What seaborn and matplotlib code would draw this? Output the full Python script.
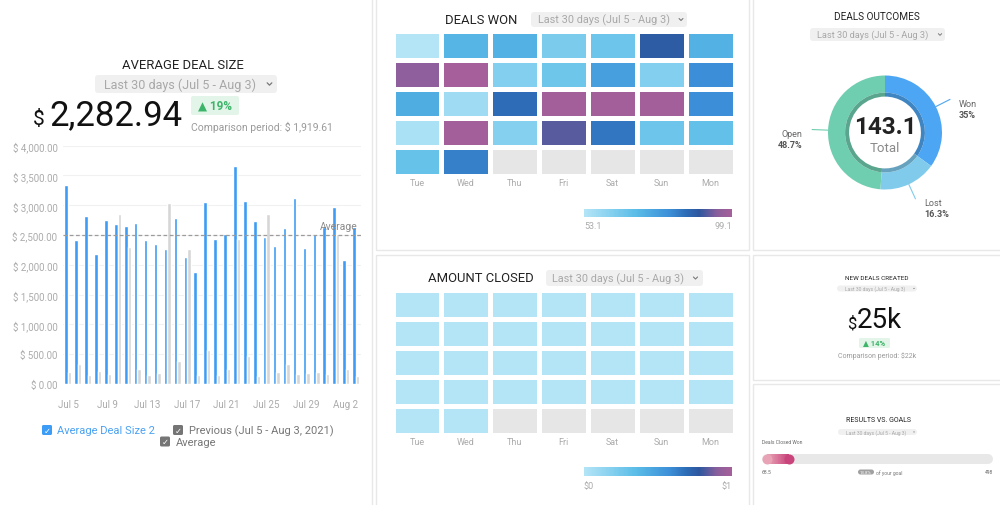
import numpy as np
import pandas as pd
import matplotlib.pyplot as plt
import seaborn as sns
from matplotlib.colors import LinearSegmentedColormap, ListedColormap, to_rgb
from matplotlib.patches import Rectangle, FancyBboxPatch
from matplotlib.collections import LineCollection

# -- data --
days = ['Jul 5', 'Jul 6', 'Jul 7', 'Jul 8', 'Jul 9', 'Jul 10', 'Jul 11', 'Jul 12',
        'Jul 13', 'Jul 14', 'Jul 15', 'Jul 16', 'Jul 17', 'Jul 18', 'Jul 19', 'Jul 20',
        'Jul 21', 'Jul 22', 'Jul 23', 'Jul 24', 'Jul 25', 'Jul 26', 'Jul 27', 'Jul 28',
        'Jul 29', 'Jul 30', 'Jul 31', 'Aug 1', 'Aug 2', 'Aug 3']
avg_deal = [3340, 2420, 2820, 2180, 2750, 2680, 2660, 2700, 2410, 2350,
            2270, 2790, 2130, 1880, 3050, 2440, 2520, 3660, 3080, 2740,
            2460, 2320, 2620, 3130, 2290, 2525, 2630, 2970, 2080, 2640]
prev_deal = [196, 330, 151, 212, 168, 2860, 2307, 246, 156, 179,
             3034, 391, 2274, 151, 575, 151, 251, 2441, 464, 140,
             2860, 196, 330, 168, 179, 207, 168, 2514, 251, 140]
avg_line = 2500
ytick_vals = [0, 500, 1000, 1500, 2000, 2500, 3000, 3500, 4000]

weekdays = ['Tue', 'Wed', 'Thu', 'Fri', 'Sat', 'Sun', 'Mon']
nan = np.nan
deals_won = [[53.1, 71.0, 72.0, 63.5, 66.0, 88.0, 72.0],
             [95.0, 99.1, 62.0, 65.5, 76.0, 62.0, 80.0],
             [73.0, 57.0, 85.0, 98.5, 98.5, 98.5, 80.0],
             [55.0, 98.5, 61.5, 91.5, 83.5, 66.0, 68.0],
             [67.0, 82.0, nan, nan, nan, nan, nan]]
amount_closed = [[0, 0, 0, 0, 0, 0, 0],
                 [0, 0, 0, 0, 0, 0, 0],
                 [0, 0, 0, 0, 0, 0, 0],
                 [0, 0, 0, 0, 0, 0, 0],
                 [0, 0, nan, nan, nan, nan, nan]]

outcome_labels = ['Won', 'Lost', 'Open']
outcome_share = [35.0, 16.3, 48.7]
outcome_total = 143.1

goal_value = 68.5
goal_target = 498

W, H = 1000, 506
sns.set_style('white')
plt.rcParams['font.family'] = ['Roboto', 'DejaVu Sans']

fig = plt.figure(figsize=(10, 5.06), dpi=100)


def px_axes(x0, y0, x1, y1, **kw):
    return fig.add_axes([x0 / W, 1 - y1 / H, (x1 - x0) / W, (y1 - y0) / H], **kw)


blue = '#3d9cf5'
grey_bar = '#d6d6d6'
tick_grey = '#ababab'
heat_cmap = LinearSegmentedColormap.from_list(
    'dw', [(0, '#b4e5f7'), (0.35, '#5bbde8'), (0.58, '#3c8fd8'), (0.7, '#2d6ab5'),
           (0.78, '#2e579f'), (0.9, '#8a5f9c'), (1.0, '#a65f9a')])

# --- average deal size bars ---
df = pd.DataFrame({'day': days * 2, 'value': avg_deal + prev_deal,
                   'series': ['Average Deal Size 2'] * 30 + ['Previous'] * 30})
ax = px_axes(63, 146.7, 360.7, 385)
sns.barplot(data=df, x='day', y='value', hue='series', palette=[blue, grey_bar],
            width=0.7, gap=0, saturation=1, errorbar=None, legend=False, ax=ax)
ax.set_ylim(0, 4000)
ax.set_yticks(ytick_vals)
ax.set_yticklabels([f'$ {v:,.2f}' for v in ytick_vals], color=tick_grey, fontsize=7)
ax.set_xticks(range(0, 30, 4))
ax.set_xticklabels(days[::4], color=tick_grey, fontsize=7)
ax.tick_params(length=0)
ax.tick_params(axis='y', pad=4)
ax.tick_params(axis='x', pad=11)
ax.yaxis.grid(True, color='#f1f1f1', lw=0.8)
ax.set_axisbelow(True)
ax.set_xlabel('')
ax.set_ylabel('')
sns.despine(ax=ax, left=True, bottom=True)
ax.axhline(avg_line, color='#9c9c9c', ls=(0, (3, 2)), lw=0.9)
ax.text(0.99, avg_line + 150, 'Average', transform=ax.get_yaxis_transform(),
        ha='right', va='center', fontsize=7.5, color='#8a8a8a')


# --- heatmaps ---
def calendar_heat(values, box, vmin, vmax, bar_box, lo, hi):
    arr = np.array(values, dtype=float)
    hax = px_axes(*box)
    empty = np.where(np.isnan(arr), 0.0, np.nan)
    sns.heatmap(empty, cmap=ListedColormap(['#e6e6e6']), cbar=False,
                linewidths=3.4, linecolor='white', ax=hax)
    sns.heatmap(arr, cmap=heat_cmap, vmin=vmin, vmax=vmax, cbar=False,
                linewidths=3.4, linecolor='white', ax=hax,
                xticklabels=weekdays, yticklabels=False)
    hax.tick_params(length=0, pad=2)
    for t in hax.get_xticklabels():
        t.set_color(tick_grey)
        t.set_fontsize(6.5)
        t.set_rotation(0)
    cax = px_axes(*bar_box)
    cax.imshow(np.linspace(0, 1, 256)[None, :], cmap=heat_cmap, aspect='auto')
    cax.axis('off')
    cax.text(0, -1.1, lo, transform=cax.transAxes, ha='left', va='center',
             fontsize=6.5, color=tick_grey)
    cax.text(1, -1.1, hi, transform=cax.transAxes, ha='right', va='center',
             fontsize=6.5, color=tick_grey)


calendar_heat(deals_won, (392.5, 31.5, 734.5, 176.5), 53.1, 99.1,
              (584, 210, 732, 218), '53.1', '99.1')
calendar_heat(amount_closed, (392.5, 290.5, 734.5, 435.5), 0, 1,
              (584, 468, 732, 477), '$0', '$1')

# --- deals outcomes donut ---
cx, cy, R = 885, 133.5, 57
dax = px_axes(cx - 103, cy - 103, cx + 103, cy + 103)
pie_colors = ['#4da6f3', '#80cbec', '#70ceb0']
dark_colors = [tuple(c * 0.8 for c in to_rgb(col)) for col in pie_colors]
dax.pie(outcome_share, colors=pie_colors, startangle=90, counterclock=False,
        radius=1.0, wedgeprops=dict(width=0.3, linewidth=0))
dax.pie(outcome_share, colors=dark_colors, startangle=90, counterclock=False,
        radius=0.70, wedgeprops=dict(width=0.07, linewidth=0))
dax.set_xlim(-103 / R, 103 / R)
dax.set_ylim(-103 / R, 103 / R)
dax.text(0, 0.1, f'{outcome_total}', ha='center', va='center', fontsize=17.5,
         fontweight='bold', color='#222222')
dax.text(0, -0.26, 'Total', ha='center', va='center', fontsize=9.5, color='#8a8a8a')
cum = 0
for lab, share, col in zip(outcome_labels, outcome_share, pie_colors):
    ang = np.deg2rad(90 - 360 * (cum + share / 2) / 100)
    cum += share
    x0, y0 = np.cos(ang), np.sin(ang)
    x1, y1 = 1.28 * x0, 1.28 * y0
    dax.plot([x0, x1], [y0, y1], color=col, lw=0.8)
    if x0 > 0:
        tx, ha = x1 + 0.16, 'left'
    else:
        tx, ha = x1 - 0.17, 'right'
    dax.text(tx, y1 - 0.07, lab, ha=ha, va='center', fontsize=6.5, color='#666666')
    dax.text(tx, y1 - 0.26, f'{share:g}%', ha=ha, va='center', fontsize=6.5,
             color='#555555', fontweight='bold')

# --- results vs goals progress ---
pax = px_axes(762, 455, 993, 465)
pax.set_xlim(0, goal_target)
pax.set_ylim(0, 1)
pax.axis('off')
cap = 5 * goal_target / 231
pax.plot([cap, goal_target - cap], [0.5, 0.5], lw=7.2, color='#e8e8e8',
         solid_capstyle='round')
xs = np.linspace(cap, goal_value - cap, 30)
segs = [[(xs[i], 0.5), (xs[i + 1], 0.5)] for i in range(len(xs) - 1)]
grad = LinearSegmentedColormap.from_list('pk', ['#e9a3b6', '#c8447b'])
pax.add_collection(LineCollection(segs, colors=grad(np.linspace(0, 1, len(segs))),
                                  linewidths=7.2, capstyle='butt'))
pax.plot([cap], [0.5], 'o', ms=7.2, color='#e9a3b6', mew=0)
pax.plot([goal_value - cap], [0.5], 'o', ms=7.2, color='#c8447b', mew=0)

# --- overlay: panels and texts ---
ov = fig.add_axes([0, 0, 1, 1], zorder=10)
ov.set_xlim(0, W)
ov.set_ylim(H, 0)
ov.axis('off')
ov.patch.set_alpha(0)

for x0, y0, x1, y1 in [(-2, -2, 372, 508), (376, -2, 749, 251), (376, 256, 749, 508),
                       (753, -2, 1002, 251), (753, 256, 1002, 381), (753, 385, 1002, 508)]:
    ov.add_patch(Rectangle((x0, y0), x1 - x0, y1 - y0, fill=False, ec='#e8e8e8', lw=1))


def dropdown(x0, y0, x1, y1, tcx, fs, chev_x):
    ov.add_patch(FancyBboxPatch((x0, y0), x1 - x0, y1 - y0,
                                boxstyle='round,pad=0,rounding_size=3',
                                fc='#f0f0f0', ec='none'))
    cyy = (y0 + y1) / 2
    ov.text(tcx, cyy, 'Last 30 days (Jul 5 - Aug 3)', ha='center', va='center',
            fontsize=fs, color='#a8a8a8')
    s = (y1 - y0) * 0.13
    ov.plot([chev_x - s, chev_x, chev_x + s], [cyy - s * 0.5, cyy + s * 0.5, cyy - s * 0.5],
            color='#777777', lw=0.9 * fs / 9)


title_col = '#222222'
title_w = 'normal'
# left panel
ov.text(182.5, 65, 'AVERAGE DEAL SIZE', ha='center', va='center', fontsize=9.4,
        fontweight=title_w, color=title_col)
dropdown(95, 76, 277, 94, 179.5, 9, 269.5)
ov.text(33, 125, '$', ha='left', va='baseline', fontsize=15, color='#111111')
ov.text(49, 125, '2,282.94', ha='left', va='baseline', fontsize=25, color='#111111')
ov.add_patch(FancyBboxPatch((191, 97), 48, 19, boxstyle='round,pad=0,rounding_size=2',
                            fc='#e3f5e8', ec='none'))
ov.text(215, 106.5, '▲ 19%', ha='center', va='center', fontsize=8.5,
        fontweight='bold', color='#3cb46a')
ov.text(191, 127, 'Comparison period: $ 1,919.61', ha='left', va='center',
        fontsize=7.5, color='#9a9a9a')


def checkbox(x, y, col):
    ov.add_patch(FancyBboxPatch((x, y), 10, 10, boxstyle='round,pad=0,rounding_size=1.5',
                                fc=col, ec='none'))
    ov.text(x + 5, y + 5.3, '✓', ha='center', va='center', fontsize=6,
            color='white', fontweight='bold')


checkbox(42, 426, blue)
ov.text(57, 431, 'Average Deal Size 2', ha='left', va='center', fontsize=8, color='#4aa2f2')
checkbox(173, 426, '#757575')
ov.text(189, 431, 'Previous (Jul 5 - Aug 3, 2021)', ha='left', va='center',
        fontsize=8, color='#777777')
checkbox(160, 437.5, '#757575')
ov.text(176, 443, 'Average', ha='left', va='center', fontsize=8, color='#777777')

# middle panels
ov.text(481, 20, 'DEALS WON', ha='center', va='center', fontsize=9.4,
        fontweight=title_w, color=title_col)
dropdown(531, 13, 687, 28, 603.5, 7.8, 681)
ov.text(481, 278.5, 'AMOUNT CLOSED', ha='center', va='center', fontsize=9.4,
        fontweight=title_w, color=title_col)
dropdown(546, 271, 703, 287, 618.5, 7.8, 695.5)

# right panels
ov.text(877, 16.5, 'DEALS OUTCOMES', ha='center', va='center', fontsize=7.2,
        fontweight=title_w, color=title_col)
dropdown(810, 29, 945, 42, 873, 6.7, 940)

ov.text(877, 279, 'NEW DEALS CREATED', ha='center', va='center', fontsize=4.6,
        fontweight=title_w, color=title_col)
dropdown(837, 286.5, 917, 292.5, 875.5, 3.6, 914)
ov.text(847, 328, '$', ha='left', va='baseline', fontsize=12, color='#111111')
ov.text(857, 328, '25k', ha='left', va='baseline', fontsize=20, color='#111111')
ov.add_patch(FancyBboxPatch((859, 339), 31, 10, boxstyle='round,pad=0,rounding_size=1.5',
                            fc='#e3f5e8', ec='none'))
ov.text(874.5, 344, '▲ 14%', ha='center', va='center', fontsize=5.5,
        fontweight='bold', color='#3cb46a')
ov.text(877, 356, 'Comparison period: $22k', ha='center', va='center',
        fontsize=5, color='#9a9a9a')

ov.text(878, 421, 'RESULTS VS. GOALS', ha='center', va='center', fontsize=5,
        fontweight=title_w, color=title_col)
dropdown(838, 430, 917, 436, 876, 3.6, 914)
ov.text(762, 443, 'Deals Closed Won', ha='left', va='center', fontsize=3.6, color='#666666')
ov.text(762, 473, f'{goal_value}', ha='left', va='center', fontsize=3.6, color='#666666')
ov.text(993, 473, f'{goal_target}', ha='right', va='center', fontsize=3.6, color='#666666')
ov.add_patch(FancyBboxPatch((858, 470.5), 16, 5, boxstyle='round,pad=0,rounding_size=2.5',
                            fc='#a0a0a0', ec='none'))
ov.text(866, 473, f'{goal_value / goal_target * 100:.1f}%', ha='center', va='center',
        fontsize=3.2, color='white')
ov.text(876, 473, 'of your goal', ha='left', va='center', fontsize=3.6, color='#777777')

fig.savefig('out.png', dpi=100, facecolor='white')
